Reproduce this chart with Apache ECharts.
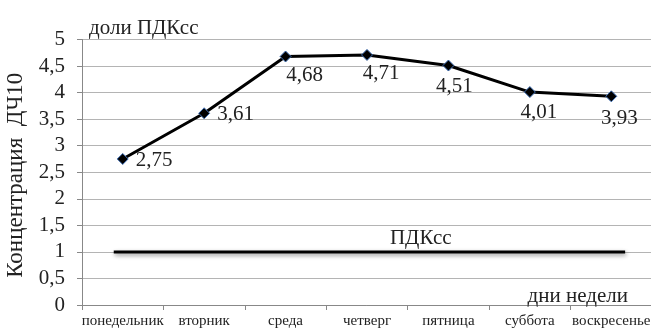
<!DOCTYPE html>
<html>
<head>
<meta charset="utf-8">
<script src="https://cdn.jsdelivr.net/npm/echarts@6/dist/echarts.min.js"></script>
<style>
html,body{margin:0;padding:0;background:#fff;}
#chart{width:651px;height:329px;}
</style>
</head>
<body>
<div id="chart"></div>
<script>
// Weekly PM10 concentration, in fractions of the daily-average MPC
const days = ['понедельник', 'вторник', 'среда', 'четверг', 'пятница', 'суббота', 'воскресенье'];
const pm10 = [2.75, 3.61, 4.68, 4.71, 4.51, 4.01, 3.93];
const yTicks = [0, 0.5, 1, 1.5, 2, 2.5, 3, 3.5, 4, 4.5, 5];
// Daily-average MPC reference level and its horizontal extent (in category units)
const mpcLevel = 1;
const mpcSpan = [-0.11, 6.17];
const mpcLabelAt = 3.66;

// Per-point label placement: [position, dx, dy]
const labelPlace = [
  ['right', 0, 2],
  ['right', 0, 1],
  ['bottom', 19, 0],
  ['bottom', 14, 0],
  ['bottom', 6, 2],
  ['bottom', 9, 2],
  ['bottom', 8, 4]
];

const serif = 'Liberation Serif';
const fmt = v => String(v).replace('.', ',');

const chart = echarts.init(document.getElementById('chart'), null, {renderer: 'canvas'});
chart.setOption({
  animation: false,
  backgroundColor: '#fff',
  title: [
    {text: 'доли ПДКсс', left: 84, top: 13,
     textStyle: {fontFamily: serif, fontSize: 21, fontWeight: 'normal', color: '#222'}},
    {text: 'дни недели', right: 18, top: 281,
     textStyle: {fontFamily: serif, fontSize: 21, fontWeight: 'normal', color: '#222'}}
  ],
  grid: {left: 82, right: -1, top: 39.5, bottom: 24, containLabel: false, outerBoundsMode: 'none'},
  xAxis: [
    {
      type: 'category', data: days, boundaryGap: true, position: 'bottom',
      axisLine: {onZero: false, lineStyle: {color: '#888', width: 1}},
      axisTick: {show: true, length: 5, lineStyle: {color: '#888'}},
      axisLabel: {interval: 0, margin: 9, fontFamily: serif, fontSize: 15, color: '#222', hideOverlap: false}
    },
    {
      type: 'value', min: -0.5, max: 6.5, show: false, position: 'bottom'
    }
  ],
  yAxis: {
    type: 'value', position: 'left', min: yTicks[0], max: yTicks[yTicks.length - 1], interval: 0.5,
    name: 'Концентрация  ДЧ10', nameLocation: 'middle', nameRotate: 90, nameGap: 55,
    nameTextStyle: {fontFamily: serif, fontSize: 23, color: '#222', padding: [0, 6, 0, 0]},
    axisLine: {show: true, onZero: false, lineStyle: {color: '#888', width: 1}},
    axisTick: {show: true, length: 5, lineStyle: {color: '#888'}},
    axisLabel: {margin: 17, fontFamily: serif, fontSize: 21, color: '#222', formatter: fmt},
    splitLine: {show: true, lineStyle: {color: '#b4b4b4', width: 1}}
  },
  series: [
    {
      type: 'line', xAxisIndex: 1, yAxisIndex: 0,
      data: [[mpcSpan[0], mpcLevel], [mpcLabelAt, mpcLevel], [mpcSpan[1], mpcLevel]],
      symbol: 'none', silent: true,
      lineStyle: {color: '#000', width: 3, shadowColor: 'rgba(0,0,0,0.45)', shadowBlur: 4, shadowOffsetX: 1, shadowOffsetY: 2},
      label: {show: false},
      markPoint: {
        symbol: 'rect', symbolSize: 1, itemStyle: {color: 'rgba(0,0,0,0)'},
        data: [{coord: [mpcLabelAt, mpcLevel], label: {show: true, formatter: 'ПДКсс', position: 'top', distance: 2,
          fontFamily: serif, fontSize: 21, color: '#222'}}]
      },
      z: 2
    },
    {
      type: 'line', xAxisIndex: 0, yAxisIndex: 0,
      data: pm10.map((v, i) => ({
        value: v,
        label: {position: labelPlace[i][0], offset: [labelPlace[i][1], labelPlace[i][2]], distance: labelPlace[i][0] === 'right' ? 7 : 2}
      })),
      symbol: 'diamond', symbolSize: 11,
      itemStyle: {color: '#000', borderColor: '#3f6fb5', borderWidth: 1},
      lineStyle: {color: '#000', width: 3},
      label: {show: true, fontFamily: serif, fontSize: 21, color: '#222', formatter: p => fmt(p.value)},
      z: 3
    }
  ]
});
</script>
</body>
</html>
